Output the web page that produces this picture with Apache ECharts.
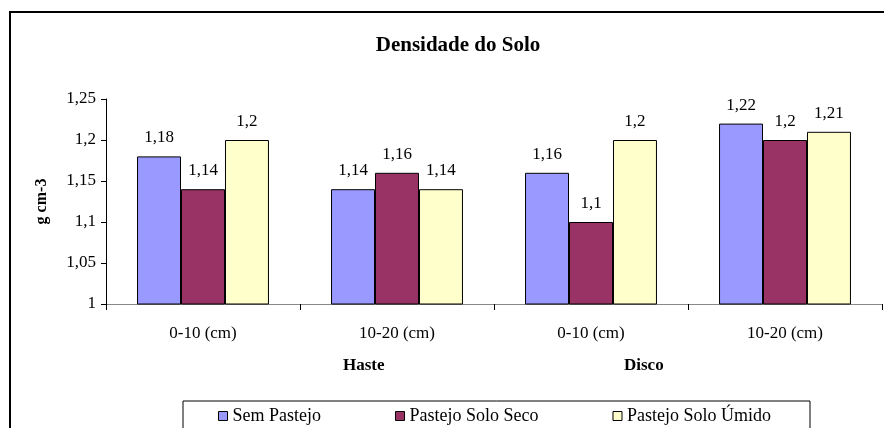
<!DOCTYPE html>
<html>
<head>
<meta charset="utf-8">
<script src="https://cdn.jsdelivr.net/npm/echarts@6/dist/echarts.min.js"></script>
<style>
  html, body { margin: 0; padding: 0; background: #fff; }
  #chart { width: 884px; height: 428px; }
</style>
</head>
<body>
<div id="chart"></div>
<script>
// profundidades e tratamentos
var categorias = ['0-10 (cm)', '10-20 (cm)', '0-10 (cm)', '10-20 (cm)'];
var grupos = ['Haste', 'Disco'];
var semPastejo = [1.18, 1.14, 1.16, 1.22];
var pastejoSeco = [1.14, 1.16, 1.1, 1.2];
var pastejoUmido = [1.2, 1.14, 1.2, 1.21];
var nomesSeries = ['Sem Pastejo', 'Pastejo Solo Seco', 'Pastejo Solo Úmido'];
var cores = ['#9999FF', '#993366', '#FFFFCC'];

var myChart = echarts.init(document.getElementById('chart'));
var serif = '"Liberation Serif", "DejaVu Serif", serif';

function fmt(v) {
    return String(v).replace('.', ',');
}

function barSerie(nome, dados, cor) {
    return {
        name: nome,
        type: 'bar',
        data: dados,
        barGap: '0%',
        barCategoryGap: '32%',
        itemStyle: { color: cor, borderColor: '#000', borderWidth: 1 },
        label: {
            show: true,
            position: 'top',
            distance: 10,
            color: '#000',
            fontFamily: serif,
            fontSize: 17,
            formatter: function (p) { return fmt(p.value); }
        }
    };
}

var option = {
    animation: false,
    title: {
        text: 'Densidade do Solo',
        left: 453,
        textAlign: 'center',
        top: 30,
        textStyle: { fontFamily: serif, fontSize: 21, fontWeight: 'bold', color: '#000' }
    },
    grid: { left: 106, top: 99, right: 2, bottom: 124 },
    legend: {
        data: nomesSeries,
        left: 183,
        top: 401,
        itemWidth: 9,
        itemHeight: 9,
        itemGap: 74,
        icon: 'rect',
        borderColor: '#000',
        borderWidth: 1,
        borderRadius: 0,
        padding: [6, 39, 20, 35],
        textStyle: { fontFamily: serif, fontSize: 18, color: '#000' },
        itemStyle: { borderColor: '#000', borderWidth: 1 }
    },
    xAxis: {
        type: 'category',
        data: categorias,
        axisLine: { lineStyle: { color: '#888', width: 1 } },
        axisTick: { show: true, length: 6, lineStyle: { color: '#000' } },
        axisLabel: { fontFamily: serif, fontSize: 17, color: '#000', margin: 21 }
    },
    yAxis: {
        type: 'value',
        min: 1,
        max: 1.25,
        interval: 0.05,
        name: 'g cm-3',
        nameLocation: 'middle',
        nameGap: 56,
        nameTextStyle: { fontFamily: serif, fontSize: 16, fontWeight: 'bold', color: '#000' },
        splitLine: { show: false },
        axisLine: { show: true, lineStyle: { color: '#000' } },
        axisTick: { show: true, length: 5, lineStyle: { color: '#000' } },
        axisLabel: {
            fontFamily: serif, fontSize: 17, color: '#000', margin: 10,
            formatter: function (v) { return fmt(Math.round(v * 100) / 100); }
        }
    },
    graphic: [
        {
            type: 'rect',
            shape: { x: 10, y: 12, width: 900, height: 440 },
            style: { fill: 'none', stroke: '#000', lineWidth: 2 },
            silent: true
        },
        {
            type: 'text',
            left: 343,
            top: 357,
            style: { text: grupos[0], font: 'bold 17px ' + serif, fill: '#000' }
        },
        {
            type: 'text',
            left: 624,
            top: 357,
            style: { text: grupos[1], font: 'bold 17px ' + serif, fill: '#000' }
        }
    ],
    series: [
        barSerie(nomesSeries[0], semPastejo, cores[0]),
        barSerie(nomesSeries[1], pastejoSeco, cores[1]),
        barSerie(nomesSeries[2], pastejoUmido, cores[2])
    ]
};

myChart.setOption(option);
</script>
</body>
</html>
